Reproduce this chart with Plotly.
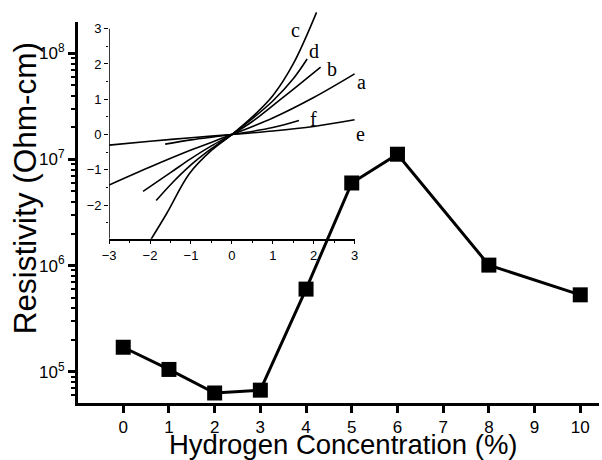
import plotly.graph_objects as go

# ---- main data ----
hydrogen = [0, 1, 2, 3, 4, 5, 6, 8, 10]
resistivity = [1.7e5, 1.05e5, 6.3e4, 6.7e4, 6.0e5, 6.0e6, 1.12e7, 1.01e6, 5.3e5]
x_ticks = [0, 1, 2, 3, 4, 5, 6, 7, 8, 9, 10]
y_tickvals = [1e5, 1e6, 1e7, 1e8]
y_ticktext = ["10<sup>5</sup>", "10<sup>6</sup>", "10<sup>7</sup>", "10<sup>8</sup>"]

# ---- inset I-V curves ----
iv_a_x = [-3, -2, -1, 0, 1, 2, 3]
iv_a_y = [-1.43, -0.92, -0.44, 0, 0.47, 1.05, 1.72]
iv_b_x = [-2.17, -1.5, -1, -0.5, 0, 0.5, 1, 1.5, 2.17]
iv_b_y = [-1.61, -1.08, -0.68, -0.32, 0, 0.37, 0.82, 1.28, 1.91]
iv_c_x = [-2.1, -1.6, -1.04, -0.5, 0, 0.5, 1.0, 1.5, 2.07]
iv_c_y = [-3.2, -2.25, -1.11, -0.45, 0, 0.5, 1.1, 2.0, 3.46]
iv_d_x = [-1.85, -1.5, -1, -0.5, 0, 0.5, 1, 1.5, 1.84]
iv_d_y = [-1.87, -1.42, -0.86, -0.4, 0, 0.45, 0.95, 1.58, 2.14]
iv_e_x = [-3, -2, -1, 0, 1, 2, 3]
iv_e_y = [-0.3, -0.19, -0.09, 0, 0.1, 0.23, 0.42]
iv_f_x = [-1.63, -1, 0, 1, 1.64]
iv_f_y = [-0.27, -0.15, 0, 0.2, 0.4]
curve_names = ["a", "b", "c", "d", "e", "f"]
label_x = [3.18, 2.44, 1.56, 2.0, 3.14, 2.0]
label_y = [1.48, 1.86, 2.95, 2.38, 0.02, 0.44]
inset_ticks = [-3, -2, -1, 0, 1, 2, 3]

W, H = 602, 460
ML, MR, MT, MB = 78, 0, 8, 57
PW, PH = W - ML - MR, H - MT - MB


def px_x(p):
    return (p - ML) / PW


def px_y(p):
    return (H - MB - p) / PH


INSET_XDOM = [px_x(109.3), px_x(357)]
INSET_YDOM = [px_y(238.7), px_y(11)]
INSET_XR = [-3, 3.02]
INSET_YR = [-2.95, 3.5]


def inset_to_paper(x, y):
    xp = INSET_XDOM[0] + (x - INSET_XR[0]) / (INSET_XR[1] - INSET_XR[0]) * (INSET_XDOM[1] - INSET_XDOM[0])
    yp = INSET_YDOM[0] + (y - INSET_YR[0]) / (INSET_YR[1] - INSET_YR[0]) * (INSET_YDOM[1] - INSET_YDOM[0])
    return xp, yp


fig = go.Figure()

curves = [(iv_a_x, iv_a_y), (iv_b_x, iv_b_y), (iv_c_x, iv_c_y),
          (iv_d_x, iv_d_y), (iv_e_x, iv_e_y), (iv_f_x, iv_f_y)]
for (cx, cy), name in zip(curves, curve_names):
    fig.add_trace(go.Scatter(x=cx, y=cy, mode="lines", name=name,
                             line=dict(color="black", width=1.6, shape="spline", smoothing=1.0),
                             xaxis="x", yaxis="y", showlegend=False))

# main trace on second subplot so it is drawn on top of the inset
fig.add_trace(go.Scatter(x=hydrogen, y=resistivity, mode="lines+markers",
                         line=dict(color="black", width=3),
                         marker=dict(symbol="square", size=15, color="black"),
                         xaxis="x2", yaxis="y2", showlegend=False))

font_sans = "Liberation Sans, Arial, sans-serif"

fig.update_layout(
    width=W, height=H,
    margin=dict(l=ML, r=MR, t=MT, b=MB, pad=0),
    paper_bgcolor="white",
    plot_bgcolor="rgba(0,0,0,0)",
    font=dict(family=font_sans, color="black"),
    # inset axes
    xaxis=dict(domain=INSET_XDOM, range=INSET_XR, anchor="y",
               showline=True, linecolor="black", linewidth=1.5, mirror=False,
               showgrid=False, zeroline=False,
               tickmode="array", tickvals=inset_ticks,
               ticks="outside", ticklen=4, tickwidth=1.2, tickcolor="black",
               minor=dict(ticks="outside", ticklen=2.5, tickwidth=1, tickcolor="black", dtick=0.5),
               tickfont=dict(size=13, family=font_sans, color="black")),
    yaxis=dict(domain=INSET_YDOM, range=INSET_YR, anchor="x",
               showline=False, showgrid=False, zeroline=False,
               tickmode="array", tickvals=[-2, -1, 0, 1, 2, 3],
               ticks="outside", ticklen=4, tickwidth=1.2, tickcolor="black",
               minor=dict(ticks="outside", ticklen=2.5, tickwidth=1, tickcolor="black",
                          tickvals=[-2.5, -1.5, -0.5, 0.5, 1.5, 2.5]),
               tickfont=dict(size=13, family=font_sans, color="black")),
    # main axes
    xaxis2=dict(domain=[0, 1], range=[-0.99, 10.41], anchor="y2",
                showline=True, linecolor="black", linewidth=3,
                showgrid=False, zeroline=False,
                tickmode="array", tickvals=x_ticks,
                ticks="outside", ticklen=7, tickwidth=2.5, tickcolor="black",
                tickfont=dict(size=17, family=font_sans, color="black")),
    yaxis2=dict(domain=[0, px_y(22)], type="log", range=[4.705, 8.295], anchor="x2",
                showline=True, linecolor="black", linewidth=3,
                showgrid=False, zeroline=False,
                tickmode="array", tickvals=y_tickvals, ticktext=y_ticktext,
                ticks="outside", ticklen=7, tickwidth=2.5, tickcolor="black",
                minor=dict(ticks="outside", ticklen=4, tickwidth=2, tickcolor="black", dtick="D1"),
                tickfont=dict(size=17, family=font_sans, color="black")),
)

# inset y-axis line (only up to 3)
fig.add_shape(type="line", xref="x", yref="y", x0=-3, x1=-3, y0=-2.95, y1=3,
              line=dict(color="black", width=1.5))

# curve labels (placed in paper coords so labels beyond x=3 remain visible)
for name, lx, ly in zip(curve_names, label_x, label_y):
    xp, yp = inset_to_paper(lx, ly)
    fig.add_annotation(x=xp, y=yp, xref="paper", yref="paper", text=name, showarrow=False,
                       font=dict(family="Liberation Serif, Times New Roman, serif", size=20, color="black"),
                       xanchor="center", yanchor="middle")

# axis titles
fig.add_annotation(x=px_x(25), y=px_y(188), xref="paper", yref="paper",
                   text="Resistivity (Ohm-cm)", showarrow=False, textangle=-90,
                   font=dict(family=font_sans, size=31.5, color="black"),
                   xanchor="center", yanchor="middle")
fig.add_annotation(x=px_x(345), y=px_y(445), xref="paper", yref="paper",
                   text="Hydrogen Concentration (%)", showarrow=False,
                   font=dict(family=font_sans, size=27.5, color="black"),
                   xanchor="center", yanchor="middle")

fig.write_html("out.html")
